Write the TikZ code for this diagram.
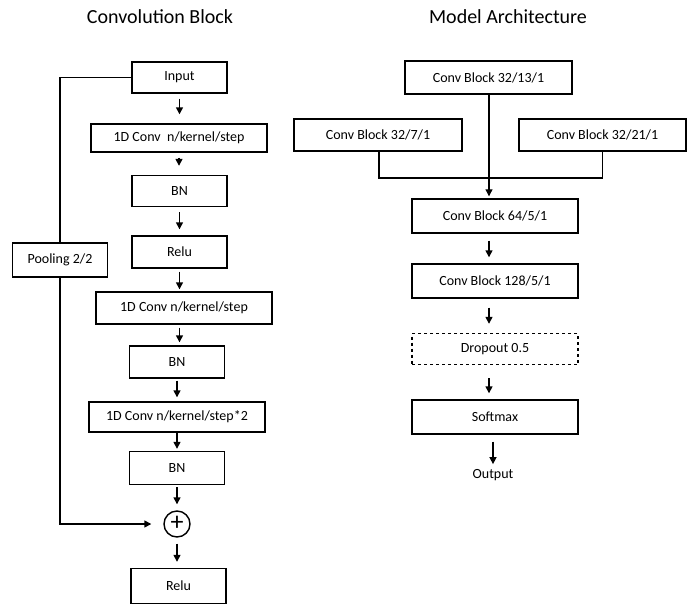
\documentclass[tikz,border=0pt]{standalone}
\usepackage{fontspec}
\setmainfont{Carlito}
\usetikzlibrary{arrows.meta,calc}
\tikzset{
  box/.style={draw=black, line width=1.4pt, minimum width=#1, minimum height=31pt, inner sep=0pt, font=\fontsize{14}{16}\selectfont},
  box/.default=95pt,
  conn/.style={line width=1.4pt, -{Triangle[length=7pt,width=7pt]}},
  flow/.style={conn, shorten <=5pt, shorten >=9pt},
  line/.style={line width=1.4pt},
  title/.style={font=\fontsize{20}{22}\selectfont},
}
\begin{document}
\begin{tikzpicture}[x=1pt,y=-1pt]
\useasboundingbox[fill=white] (0,0) rectangle (696,608);
% titles
\node[title] (t1) at (160,17) {Convolution Block};
\node[title] (t2) at (508,17) {Model Architecture};
% left column
\node[box] (in) at (179.5,77.5) {Input};
\node[box=176pt, minimum height=28pt] (c1) at (179,138) {1D Conv\ \ n/kernel/step};
\node[box] (bn1) at (179.5,191) {BN};
\node[box, minimum height=32pt] (r1) at (179.5,252) {Relu};
\node[box=176pt, minimum height=32pt] (c2) at (184,308) {1D Conv n/kernel/step};
\node[box, minimum height=32pt] (bn2) at (177,362) {BN};
\node[box=176pt, minimum height=30pt] (c3) at (177,417) {1D Conv n/kernel/step*2};
\node[box, minimum height=33pt] (bn3) at (177,468) {BN};
\node[draw, line width=1.4pt, circle, minimum size=26pt, inner sep=0pt, font=\fontsize{26}{26}\selectfont] (plus) at (177,524) {\raisebox{1pt}{+}};
\node[box, minimum height=35pt] (r2) at (178.5,586) {Relu};
\node[box, minimum height=34pt] (pool) at (60,260) {Pooling 2/2};
\draw[flow] (in.south) -- (in.south |- c1.north);
\draw[flow] (c1.south) -- (c1.south |- bn1.north);
\draw[flow, shorten >=6pt] (bn1.south) -- (bn1.south |- r1.north);
\draw[flow, shorten <=3pt, shorten >=2pt] (r1.south) -- (r1.south |- c2.north);
\draw[flow, shorten <=3pt, shorten >=3pt] (bn1.south |- c2.south) -- (bn1.south |- bn2.north);
\draw[flow, shorten <=2pt, shorten >=4pt] (bn2.south) -- (bn2.south |- c3.north);
\draw[flow, shorten <=0pt, shorten >=2pt] (c3.south) -- (c3.south |- bn3.north);
\draw[flow, shorten <=2pt, shorten >=6pt] (bn3.south) -- (plus.north);
\draw[flow, shorten <=6pt, shorten >=6pt] (plus.south) -- (plus.south |- r2.north);
\draw[line] (in.west) -| (pool.north);
\draw[conn, shorten >=12pt] (pool.south) |- (plus.west);
% right column
\node[box=167pt, minimum height=33pt] (b13) at (488.5,77.5) {Conv Block 32/13/1};
\node[box=168pt, minimum height=32pt] (b7) at (378,135) {Conv Block 32/7/1};
\node[box=167pt, minimum height=32pt] (b21) at (602.5,135) {Conv Block 32/21/1};
\node[box=166pt, minimum height=34pt] (b64) at (495,216) {Conv Block 64/5/1};
\node[box=166pt, minimum height=34pt] (b128) at (495,281) {Conv Block 128/5/1};
\node[box=166pt, dashed, minimum height=31pt] (drop) at (495,349) {Dropout 0.5};
\node[box=166pt, minimum height=34pt] (soft) at (495,417) {Softmax};
\node[font=\fontsize{14}{16}\selectfont, inner sep=2pt] (out) at (493,475) {Output};
\coordinate (merge) at (489,178);
\draw[line] (b7.south -| 379,0) -- (379,178) -- (b21.south |- merge) -- (b21.south);
\draw[conn, line width=1.1pt, shorten >=2pt] (b13.south -| merge) -- (b64.north -| merge);
\draw[flow, shorten <=7pt, shorten >=6pt] (b64.south -| merge) -- (b128.north -| merge);
\draw[flow, shorten <=9pt, shorten >=9pt] (b128.south -| merge) -- (drop.north -| merge);
\draw[flow, shorten <=13pt, shorten >=6pt] (drop.south -| merge) -- (soft.north -| merge);
\draw[flow, shorten <=7pt, shorten >=3pt] (soft.south -| out) -- (out.north);
\end{tikzpicture}
\end{document}
